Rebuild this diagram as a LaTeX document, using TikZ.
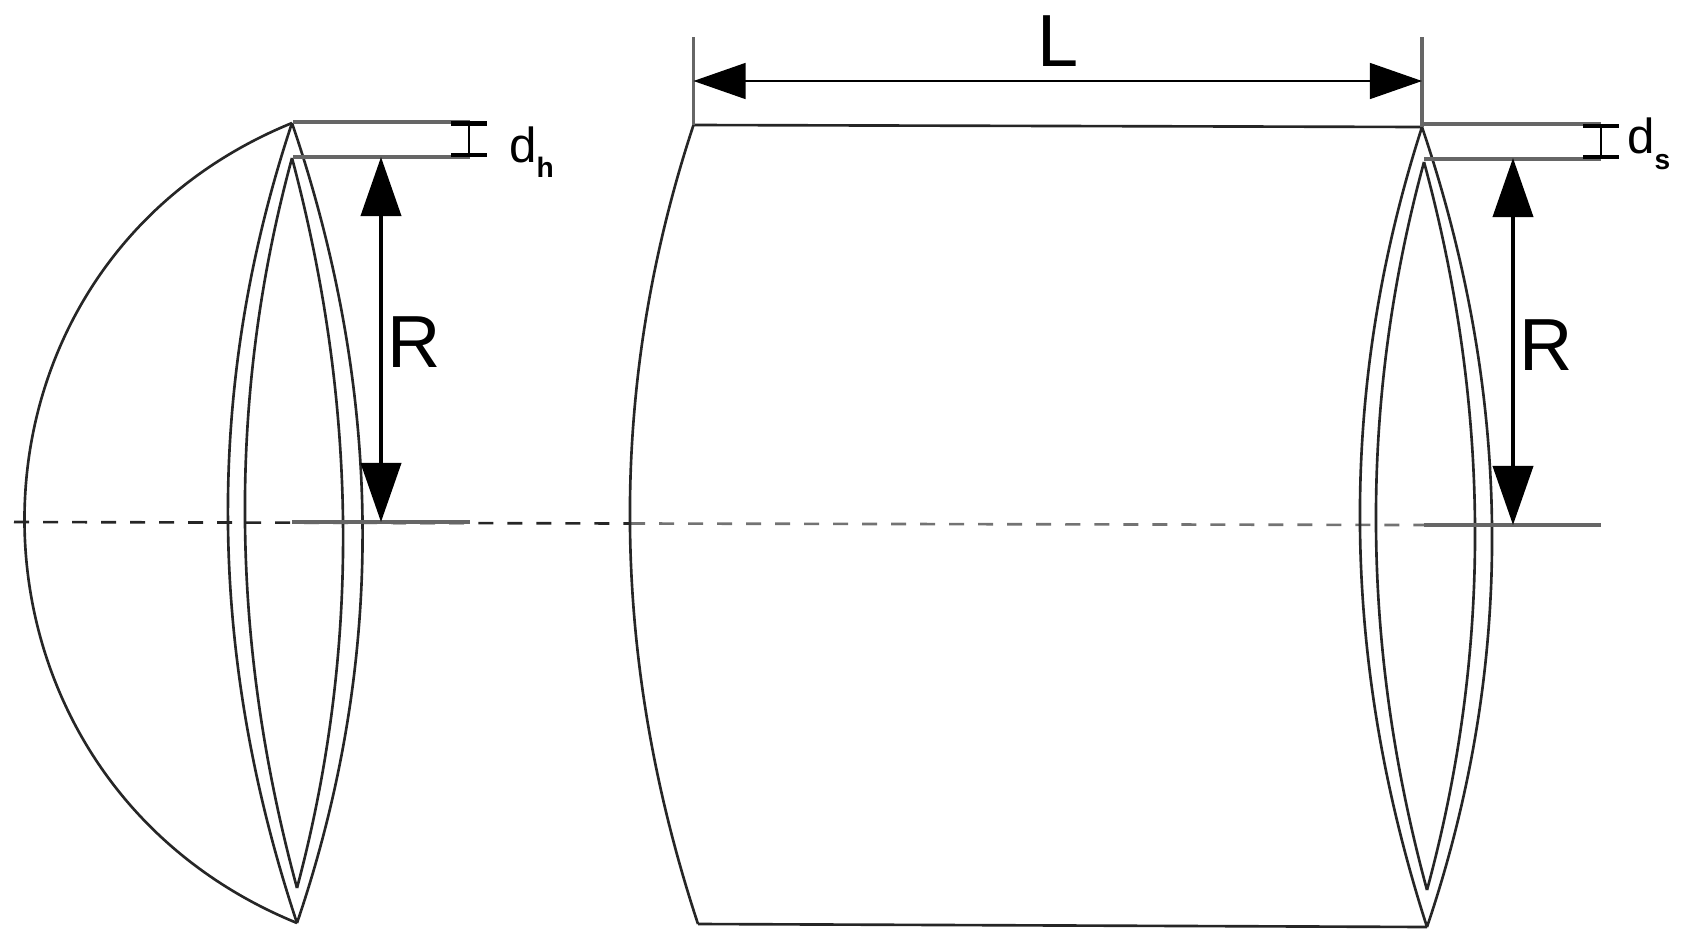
\documentclass[tikz,border=0pt]{standalone}
\usepackage{fontspec}
\setmainfont{Liberation Sans}
\usetikzlibrary{arrows.meta}
\tikzset{
  outline/.style={line width=0.75pt,black!85},
  gauge/.style={line width=1.4pt,black!60},
  axisline/.style={line width=0.75pt,dash pattern=on 0.15cm off 0.14cm},
  bar/.style={line width=1.4pt,black},
  thindim/.style={line width=0.35pt,black},
  bigdim/.style={line width=1.1pt,black,{Triangle[length=5.9mm,width=4mm]}-{Triangle[length=5.9mm,width=4mm]}},
  lendim/.style={line width=0.35pt,black,{Triangle[length=5.2mm,width=3.6mm]}-{Triangle[length=5.2mm,width=3.6mm]}},
  bigtext/.style={inner sep=0pt,font=\fontsize{21}{21}\selectfont},
  dtext/.style={inner sep=0pt,font=\fontsize{14}{14}\selectfont},
  subtext/.style={inner sep=0pt,font=\bfseries\fontsize{8}{8}\selectfont}
}
\begin{document}
\begin{tikzpicture}[x=0.01cm,y=-0.01cm]
  \useasboundingbox (0,0) rectangle (1681,948);
  % left cap
  \coordinate (htop) at (292,123);
  \coordinate (hbot) at (297,923);
  \coordinate (hintop) at (292,158);
  \coordinate (hinbot) at (297,888);
  % cylinder and right cap
  \coordinate (ctl) at (693.5,125);
  \coordinate (cbl) at (698,924);
  \coordinate (stop) at (1422,127);
  \coordinate (sbot) at (1427,927);
  \coordinate (sintop) at (1424,162);
  \coordinate (sinbot) at (1427,890);
  % free ends of the dimension lines
  \coordinate (axisl) at (14,522);
  \coordinate (axism) at (630,523.5);
  \coordinate (axisr) at (1424,525);
  \coordinate (hstart) at (293,122);
  \coordinate (hinstart) at (293,157);
  \coordinate (hend) at (470,122);
  \coordinate (hinend) at (470,157);
  \coordinate (hmid) at (292,522);
  \coordinate (hmidend) at (470,522);
  \coordinate (sstart) at (1422,124);
  \coordinate (sinstart) at (1424,159);
  \coordinate (send) at (1601,124);
  \coordinate (sinend) at (1601,159);
  \coordinate (smidend) at (1601,525);
  \coordinate (lenl) at (693.5,37);
  \coordinate (lenr) at (1422,37);
  \coordinate (arrl) at (693.5,81);
  \coordinate (arrr) at (1422,81);
  \coordinate (hrtop) at (381,157);
  \coordinate (hrbot) at (381,522);
  \coordinate (srtop) at (1513,158);
  \coordinate (srbot) at (1513,525);

  % centre line
  \draw[axisline,black!85] (axisl) -- (axism);
  \draw[axisline,black!55] (axism) -- (axisr);

  % hemisphere
  \draw[outline] (htop) .. controls +(-360,147) and +(-360,-147) .. (hbot);
  \draw[outline] (htop) .. controls +(-88.7,267) and +(-88.7,-267) .. (hbot);
  \draw[outline] (htop) .. controls +(90.7,267) and +(90.7,-267) .. (hbot);
  \draw[outline] (hintop) .. controls +(-66,243) and +(-66,-243) .. (hinbot);
  \draw[outline] (hintop) .. controls +(64.7,243) and +(64.7,-243) .. (hinbot);

  % cylinder
  \draw[outline] (ctl) .. controls +(-87.7,266) and +(-87.7,-266) .. (cbl);
  \draw[outline] (ctl) -- (stop);
  \draw[outline] (cbl) -- (sbot);
  \draw[outline] (stop) .. controls +(-86,267) and +(-86,-267) .. (sbot);
  \draw[outline] (stop) .. controls +(90,267) and +(90,-267) .. (sbot);
  \draw[outline] (sintop) .. controls +(-66,243) and +(-66,-243) .. (sinbot);
  \draw[outline] (sintop) .. controls +(66,243) and +(66,-243) .. (sinbot);

  % gauge lines
  \draw[gauge] (hstart) -- (hend);
  \draw[gauge] (hinstart) -- (hinend);
  \draw[gauge] (hmid) -- (hmidend);
  \draw[gauge] (sstart) -- (send);
  \draw[gauge] (sinstart) -- (sinend);
  \draw[gauge] (axisr) -- (smidend);
  \draw[gauge,line width=0.9pt] (lenl) -- (ctl);
  \draw[gauge,line width=0.9pt] (lenr) -- (stop);

  % wall thickness marks
  \foreach \x/\ytop/\ybot in {469/123.5/155, 1601/126/157}{
    \draw[thindim] (\x,\ytop) -- (\x,\ybot);
    \draw[bar] (\x-18,\ytop) -- (\x+18,\ytop);
    \draw[bar] (\x-18,\ybot) -- (\x+18,\ybot);
  }

  % dimensions
  \draw[lendim] (arrl) -- (arrr);
  \draw[bigdim] (hrtop) -- (hrbot);
  \draw[bigdim] (srtop) -- (srbot);

  \node[bigtext,anchor=base] (labelL) at (1058,66) {L};
  \node[bigtext,anchor=base] (labelRh) at (414,367) {R};
  \node[bigtext,anchor=base] (labelRs) at (1546,370) {R};
  \node[dtext,anchor=base west] (labeldh) at (509,162) {d};
  \node[subtext,anchor=base west] (labelh) at (536,177) {h};
  \node[dtext,anchor=base west] (labelds) at (1627,153) {d};
  \node[subtext,anchor=base west] (labels) at (1654,169) {s};
\end{tikzpicture}
\end{document}
